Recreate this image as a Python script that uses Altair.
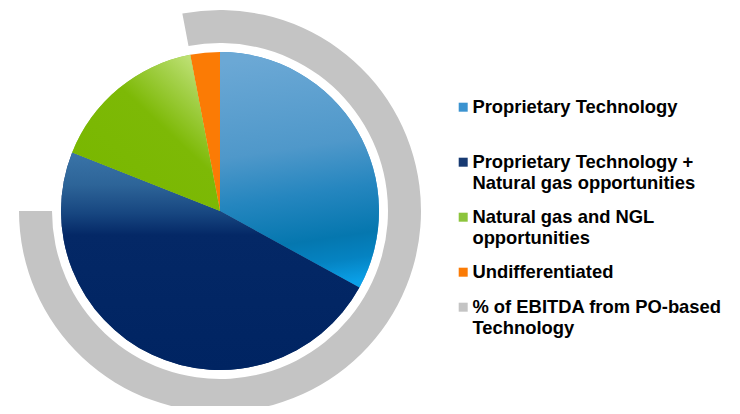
import altair as alt
import pandas as pd

# ---- data ----
names = [
    "Proprietary Technology",
    "Proprietary Technology +\nNatural gas opportunities",
    "Natural gas and NGL\nopportunities",
    "Undifferentiated",
]
shares = [33, 48, 16, 3]
order = [0, 1, 2, 3]

ring_names = ["% of EBITDA from PO-based\nTechnology"]
ring_shares = [78]
ring_starts = [-3]  # ring begins where "Undifferentiated" begins

legend_colors = ["#3b93d0", "#173a72", "#8cc43c", "#fb7b05", "#c4c4c4"]

pie_df = pd.DataFrame({"name": names, "share": shares, "k": order})
ring_df = pd.DataFrame({"name": ring_names, "share": ring_shares, "p0": ring_starts})

theta_scale = alt.Scale(domain=[0, 100])
color_scale = alt.Scale(domain=names + ring_names, range=legend_colors)

legend = alt.Legend(
    title=None,
    orient="none",
    legendX=446,
    legendY=90,
    symbolType="square",
    symbolSize=81,
    symbolStrokeWidth=0,
    labelFont="Liberation Sans",
    labelFontSize=18.4,
    labelFontWeight="bold",
    labelColor="#000000",
    labelLimit=320,
    labelOffset=0,
    rowPadding=16,
    labelExpr=(
        "datum.label == 'Proprietary Technology' ? ['Proprietary Technology', ''] "
        ": split(datum.label, '\\n')"
    ),
)

center_y = alt.value(203)

ring = (
    alt.Chart(ring_df)
    .transform_calculate(p1="datum.p0 + datum.share")
    .mark_arc(radius=201, radius2=168, strokeWidth=0)
    .encode(
        theta=alt.Theta("p0:Q", scale=theta_scale),
        theta2="p1:Q",
        color=alt.Color("name:N", scale=color_scale, legend=legend),
        y=center_y,
    )
)

pie_base = (
    alt.Chart(pie_df)
    .transform_window(cum="sum(share)", sort=[alt.SortField("k")])
    .transform_calculate(p0="datum.cum - datum.share", p1="datum.cum")
)

pie = pie_base.mark_arc(radius=159, strokeWidth=0).encode(
    theta=alt.Theta("p0:Q", scale=theta_scale),
    theta2="p1:Q",
    color=alt.Color("name:N", scale=color_scale, legend=legend),
    y=center_y,
)

gradients = {
    0: alt.Gradient(
        gradient="linear",
        x1=0.5, y1=0, x2=0.6, y2=1,
        stops=[
            alt.GradientStop(color="#6ba8d5", offset=0),
            alt.GradientStop(color="#4f98ca", offset=0.4),
            alt.GradientStop(color="#2586bf", offset=0.6),
            alt.GradientStop(color="#0577af", offset=0.8),
            alt.GradientStop(color="#0583c2", offset=0.9),
            alt.GradientStop(color="#0aa0e8", offset=1),
        ],
    ),
    1: alt.Gradient(
        gradient="linear",
        x1=0, y1=0, x2=0, y2=1,
        stops=[
            alt.GradientStop(color="#3a74a8", offset=0),
            alt.GradientStop(color="#2d6498", offset=0.15),
            alt.GradientStop(color="#174680", offset=0.28),
            alt.GradientStop(color="#042866", offset=0.38),
            alt.GradientStop(color="#002462", offset=1),
        ],
    ),
    2: alt.Gradient(
        gradient="linear",
        x1=1, y1=0, x2=0.2, y2=0.9,
        stops=[
            alt.GradientStop(color="#d4ee98", offset=0),
            alt.GradientStop(color="#a6d24e", offset=0.25),
            alt.GradientStop(color="#7db906", offset=0.5),
            alt.GradientStop(color="#79b700", offset=1),
        ],
    ),
}

overlays = [
    pie_base.transform_filter(f"datum.k == {k}")
    .mark_arc(radius=159, strokeWidth=0, fill=g)
    .encode(theta=alt.Theta("p0:Q", scale=theta_scale), theta2="p1:Q", y=center_y)
    for k, g in gradients.items()
]

chart = (
    alt.layer(ring, pie, *overlays)
    .properties(
        width=424,
        height=398,
        padding={"left": 0, "top": 0, "right": 300, "bottom": 0},
        autosize=alt.AutoSizeParams(type="none"),
        background="white",
    )
    .configure_view(stroke=None)
)

chart.save("out.html", embed_options={"renderer": "svg", "actions": False})
